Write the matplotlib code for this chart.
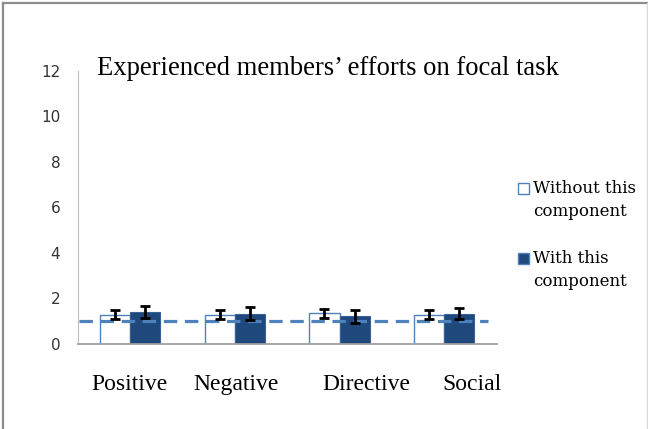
import matplotlib
matplotlib.use('agg')
import matplotlib.pyplot as plt
import matplotlib.transforms as mtransforms
from matplotlib.patches import Rectangle
from matplotlib.lines import Line2D
import numpy as np

# data
cats = ['Positive', 'Negative', 'Directive', 'Social']
without_vals = [1.27, 1.27, 1.34, 1.27]
with_vals = [1.38, 1.31, 1.19, 1.31]
without_err = [0.20, 0.20, 0.20, 0.21]
with_err = [0.27, 0.28, 0.27, 0.25]
baseline = 1.0
series_names = ['Without this\ncomponent', 'With this\ncomponent']
title = 'Experienced members\u2019 efforts on focal task'

W, H = 648, 429
fig = plt.figure(figsize=(W/100, H/100), dpi=100)
ax = fig.add_axes([77.5/W, 1-343.5/H, (496.7-77.5)/W, (343.5-71)/H])

x = np.arange(len(cats))
bw = 0.287
ax.bar(x-bw/2, without_vals, bw, color='white', edgecolor='#4F81BD', linewidth=1, zorder=2)
ax.bar(x+bw/2, with_vals, bw, color='#1F497D', edgecolor='#3A6194', linewidth=0.8, zorder=2)

# reference line
ax.plot([-0.485, 3.415], [baseline, baseline], color='#4F81BD', lw=2.3,
        dashes=(4.2, 2.4), zorder=3, solid_capstyle='butt', dash_capstyle='butt')

ax.errorbar(x-bw/2, without_vals, yerr=without_err, fmt='none', ecolor='black',
            elinewidth=2, capsize=3.3, capthick=2, zorder=4)
ax.errorbar(x+bw/2, with_vals, yerr=with_err, fmt='none', ecolor='black',
            elinewidth=2, capsize=3.3, capthick=2, zorder=4)

ax.set_xlim(-0.5, 3.5)
ax.set_ylim(0, 12)
ax.set_yticks(range(0, 13, 2))
ax.tick_params(axis='y', length=0, pad=12.5, labelsize=11, labelcolor='#333333')
ax.set_yticklabels([str(v) for v in range(0, 13, 2)], family='DejaVu Sans')

ax.set_xticks(x)
ax.set_xticklabels(cats, family='Liberation Serif', fontsize=17)
ax.tick_params(axis='x', length=0, pad=22)
# the labels in the picture sit a little right of the bars
offs = [0, 1.6, 27, 27.7]
for lab, dx in zip(ax.get_xticklabels(), offs):
    lab.set_transform(lab.get_transform() + mtransforms.ScaledTranslation(dx/100, 0, fig.dpi_scale_trans))

for s in ['top', 'right']:
    ax.spines[s].set_visible(False)
ax.spines['left'].set_color('#BFBFBF')
ax.spines['bottom'].set_color('#A0A0A0')
ax.spines['bottom'].set_linewidth(1.3)

fig.text(97/W, 1-75/H, title, family='Liberation Serif', fontsize=19.2, va='baseline')

# legend, drawn by hand
leg_rows = [188, 258]
leg_style = [dict(fc='white', ec='#4F81BD'), dict(fc='#1F497D', ec='#4F81BD')]
for yy, name, st in zip(leg_rows, series_names, leg_style):
    fig.patches.append(Rectangle((518/W, 1-(yy+5.5)/H), 11/W, 11/H, lw=1,
                                 transform=fig.transFigure, figure=fig, **st))
    fig.text(533/W, 1-(yy-8)/H, name, family='DejaVu Serif', fontsize=12,
             va='top', linespacing=1.5)

# chart frame
fig.add_artist(Line2D([3/W, 3/W], [0, 1-2.5/H], color='#8C8C8C', lw=1.6, transform=fig.transFigure))
fig.add_artist(Line2D([3/W, 647/W], [1-2.5/H, 1-2.5/H], color='#8C8C8C', lw=1.6, transform=fig.transFigure))
fig.add_artist(Line2D([647/W, 647/W], [0, 1-2.5/H], color='#D9D9D9', lw=1, transform=fig.transFigure))

plt.savefig('out.png', dpi=100)
plt.close()
